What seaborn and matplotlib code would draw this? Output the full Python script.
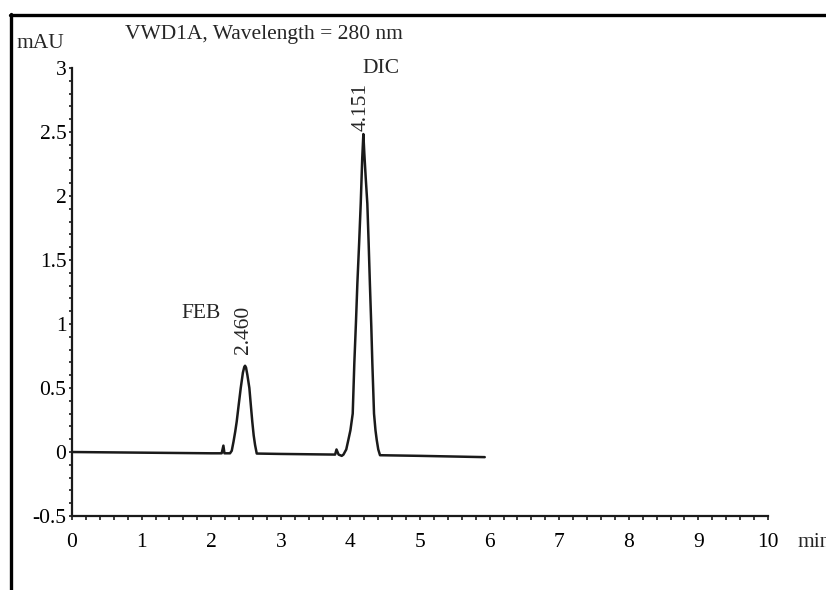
#!/usr/bin/env python3
"""HPLC chromatogram, VWD1A at 280 nm (FEB / DIC)."""

import matplotlib
matplotlib.use("Agg")
import matplotlib.pyplot as plt
from matplotlib.lines import Line2D
from matplotlib.ticker import MultipleLocator
import seaborn as sns
import pandas as pd

# trace: retention time (min) and signal (mAU)
time_min = [0.00, 1.00, 2.00, 2.15, 2.175, 2.19, 2.27, 2.295, 2.32, 2.345,
            2.366, 2.395, 2.424, 2.455, 2.475, 2.486, 2.50, 2.52, 2.548, 2.57,
            2.59, 2.61, 2.63, 2.654, 3.00, 3.78, 3.80, 3.83, 3.875, 3.90,
            3.94, 3.97, 4.00, 4.033, 4.056, 4.08, 4.10, 4.125, 4.148, 4.17,
            4.186, 4.20, 4.22, 4.243, 4.262, 4.28, 4.30, 4.315, 4.339, 4.36,
            4.378, 4.40, 4.425, 5.00, 5.93]
signal_mau = [0.00, -0.005, -0.01, -0.01, 0.05, -0.01, -0.01, 0.01, 0.08, 0.16,
              0.237, 0.37, 0.50, 0.62, 0.665, 0.674, 0.66, 0.60, 0.50, 0.36,
              0.237, 0.13, 0.055, -0.012, -0.015, -0.02, 0.02, -0.02, -0.03, -0.02,
              0.02, 0.094, 0.17, 0.30, 0.693, 1.02, 1.32, 1.63, 1.94, 2.30,
              2.484, 2.33, 2.14, 1.94, 1.63, 1.31, 0.98, 0.693, 0.30, 0.17,
              0.094, 0.02, -0.025, -0.03, -0.04]

peak_names = ["FEB", "DIC"]
peak_rt_labels = ["2.460", "4.151"]

x_ticks = list(range(0, 11))
y_ticks = [-0.5, 0, 0.5, 1, 1.5, 2, 2.5, 3]
y_tick_labels = ["-0.5", "0", "0.5", "1", "1.5", "2", "2.5", "3"]

sns.set_theme(style="white")
plt.rcParams["font.family"] = ["Liberation Serif", "DejaVu Serif"]
plt.rcParams["axes.unicode_minus"] = False

df = pd.DataFrame({"time": time_min, "mAU": signal_mau})

fig = plt.figure(figsize=(8.26, 5.90), dpi=100)
ax = fig.add_axes([0.0872, 0.1254, 0.8426, 0.7593])

sns.lineplot(data=df, x="time", y="mAU", sort=False, estimator=None,
             color="#1a1a1a", linewidth=1.8, ax=ax)

ax.set_xlim(0, 10)
ax.set_ylim(-0.5, 3)
ax.set_xlabel("")
ax.set_ylabel("")

for side in ["top", "right"]:
    ax.spines[side].set_visible(False)
for side in ["left", "bottom"]:
    ax.spines[side].set_color("#1a1a1a")
    ax.spines[side].set_linewidth(1.6)

ax.set_xticks(x_ticks)
ax.set_xticklabels([str(t) for t in x_ticks])
ax.set_yticks(y_ticks)
ax.set_yticklabels(y_tick_labels)
ax.xaxis.set_minor_locator(MultipleLocator(0.2))
ax.yaxis.set_minor_locator(MultipleLocator(0.1))
ax.tick_params(axis="x", which="both", direction="out", length=3, width=1.2,
               color="#1a1a1a", bottom=True, pad=9, labelsize=15.5, labelcolor="black")
ax.tick_params(axis="y", which="both", direction="out", length=2, width=1.2,
               color="#1a1a1a", left=True, pad=2, labelsize=15.5, labelcolor="black")

# annotations
ax.text(-0.46, 3.19, "mAU", fontsize=15.5, ha="center", va="center", clip_on=False)
ax.text(0.76, 3.26, "VWD1A, Wavelength = 280 nm", fontsize=15.5, ha="left",
        va="center", clip_on=False)
ax.text(10.42, -0.71, "min", fontsize=15.5, ha="left", va="center", clip_on=False)

ax.text(1.85, 1.086, peak_names[0], fontsize=15.5, ha="center", va="center")
ax.text(2.46, 0.953, peak_rt_labels[0], fontsize=15.5, ha="center", va="center",
        rotation=90)
ax.text(4.44, 3.00, peak_names[1], fontsize=15.5, ha="center", va="center",
        clip_on=False)
ax.text(4.16, 2.695, peak_rt_labels[1], fontsize=15.5, ha="center", va="center",
        rotation=90)

# outer frame (top and left edges of the scanned figure)
fig.add_artist(Line2D([10 / 826, 1.0], [1 - 15 / 590, 1 - 15 / 590],
                      transform=fig.transFigure, color="black", linewidth=2.4))
fig.add_artist(Line2D([11 / 826, 11 / 826], [1 - 14 / 590, 0.0],
                      transform=fig.transFigure, color="black", linewidth=2.4))

fig.savefig("out.png", dpi=100)
